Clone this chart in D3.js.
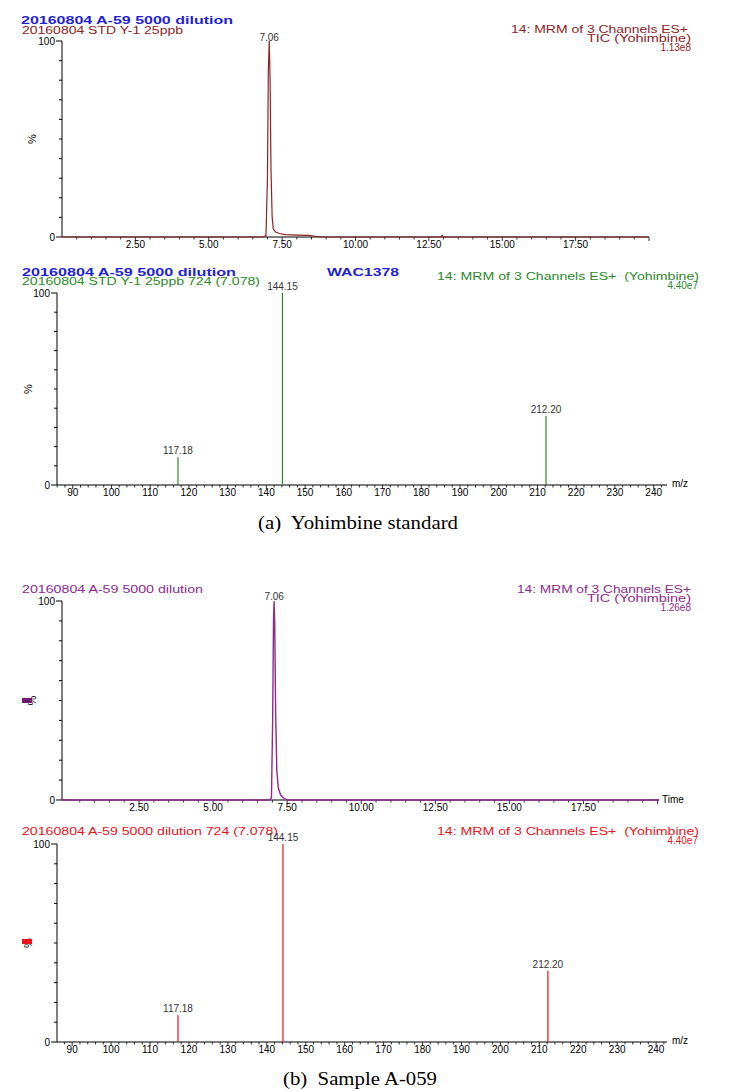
<!DOCTYPE html>
<html><head><meta charset="utf-8">
<script src="https://cdn.jsdelivr.net/npm/d3@7"></script>
<style>
html,body{margin:0;padding:0;background:#fff;}
svg{display:block;font-family:"Liberation Sans",Arial,sans-serif;}
text{white-space:pre;}
</style></head>
<body>
<svg id="chart" width="748" height="1091"></svg>
<script>
// ---------- DATA ----------
const timeTickLabels = [2.5, 5, 7.5, 10, 12.5, 15, 17.5];
const mzTickLabels = [90, 100, 110, 120, 130, 140, 150, 160, 170, 180, 190, 200, 210, 220, 230, 240];

// TIC of standard (top panel)
const ticStdTime = [0.0, 6.85, 6.95, 7.00, 7.03, 7.06, 7.09, 7.12, 7.16, 7.20, 7.28, 7.40, 7.60, 8.00, 8.40, 8.80, 12.90, 12.95, 13.00, 20.0];
const ticStdInt  = [0,   0,    0.8,  30,   85,   100,  80,   35,   10,   4,    2.5,  1.8,  1.2,  1.0,  0.8,  0,    0,     0.8,   0,     0];

// TIC of sample (third panel)
const ticSmpTime = [-0.1, 6.90, 6.97, 7.01, 7.04, 7.06, 7.08, 7.11, 7.15, 7.20, 7.28, 7.38, 7.50, 20.05];
const ticSmpInt  = [0,    0,    1,    40,   92,   100,  88,   45,   15,   6,    2.5,  1,    0,    0];

// MS/MS product ions
const mzPeaks = [117.18, 144.15, 212.20];
const mzLabels = ["117.18", "144.15", "212.20"];
const stdSpecInt = [14.5, 100, 36];
const smpSpecInt = [13.5, 100, 36];

// ---------- DRAW ----------
const svg = d3.select("#chart");
const FONT = 10;

function txt(x, y, s, opt) {
  const t = svg.append("text").attr("x", x).attr("y", y).text(s)
    .attr("font-size", opt.size || FONT)
    .attr("fill", opt.fill || "#000")
    .attr("text-anchor", opt.anchor || "start");
  if (opt.bold) t.attr("font-weight", "bold");
  if (opt.len) t.attr("textLength", opt.len).attr("lengthAdjust", "spacingAndGlyphs");
  if (opt.family) t.attr("font-family", opt.family);
  return t;
}

function yAxis(y, x0, pctX) {
  const g = svg.append("g");
  g.append("line").attr("x1", x0).attr("x2", x0).attr("y1", y(0)).attr("y2", y(100)).attr("stroke", "#000").attr("stroke-width", 1);
  d3.range(0, 101, 10).forEach(v => {
    const L = (v === 0 || v === 100) ? 6 : 3;
    g.append("line").attr("x1", x0 - L).attr("x2", x0).attr("y1", y(v)).attr("y2", y(v)).attr("stroke", "#000");
  });
  txt(x0 - 7, y(100) + 3.5, "100", {anchor: "end"});
  txt(x0 - 7, y(0) + 3.5, "0", {anchor: "end"});
  svg.append("text").attr("transform", `translate(${pctX},${y(50)}) rotate(-90)`)
    .attr("text-anchor", "middle").attr("font-size", 11).text("%");
}

function xAxis(x, y0, minor, majorEvery, labels, fmt, labelY) {
  const [r0, r1] = x.range();
  svg.append("line").attr("x1", r0).attr("x2", r1).attr("y1", y0).attr("y2", y0).attr("stroke", "#000");
  minor.forEach(v => {
    const px = x(v);
    if (px < r0 || px > r1) return;
    const major = Math.abs(v / majorEvery - Math.round(v / majorEvery)) < 1e-6;
    svg.append("line").attr("x1", px).attr("x2", px).attr("y1", y0).attr("y2", y0 + (major ? 4 : 2.5)).attr("stroke", "#000").attr("stroke-width", 0.8);
  });
  labels.forEach(v => txt(x(v), labelY, fmt(v), {anchor: "middle"}));
}

// ---- Panel 1: TIC standard ----
{
  const x = d3.scaleLinear().domain([0, 20]).range([62, 649]);
  const y = d3.scaleLinear().domain([0, 100]).range([237, 41]);
  const col = "#8e2424";
  txt(21, 24, "20160804 A-59 5000 dilution", {bold: true, fill: "#1f1fd8", size: 11, len: 212});
  txt(22, 34, "20160804 STD Y-1 25ppb", {fill: col, len: 161});
  txt(688, 33, "14: MRM of 3 Channels ES+", {fill: col, anchor: "end", len: 177});
  txt(691, 42, "TIC (Yohimbine)", {fill: col, anchor: "end", len: 104});
  txt(691, 51, "1.13e8", {fill: col, anchor: "end"});
  yAxis(y, 62, 36);
  xAxis(x, 237, d3.range(0.5, 20.01, 0.5), 2.5, timeTickLabels, d => d.toFixed(2), 248);
  const data = ticStdTime.map((t, i) => [t, ticStdInt[i]]);
  svg.append("path").datum(data)
    .attr("d", d3.line().x(d => x(d[0])).y(d => y(d[1])))
    .attr("fill", "none").attr("stroke", col).attr("stroke-width", 1.2);
  txt(x(7.06), 41, "7.06", {anchor: "middle", fill: "#333"});
}

// ---- Panel 2: spectrum standard ----
{
  const x = d3.scaleLinear().domain([85.94, 243.44]).range([57, 667]);
  const y = d3.scaleLinear().domain([0, 100]).range([485, 293]);
  const col = "#2b8a2b";
  txt(22, 276, "20160804 A-59 5000 dilution", {bold: true, fill: "#1f1fd8", size: 11, len: 214});
  txt(327, 276, "WAC1378", {bold: true, fill: "#1f1fd8", size: 11, len: 72});
  txt(22, 285, "20160804 STD Y-1 25ppb 724 (7.078)", {fill: col, len: 238});
  txt(699, 280, "14: MRM of 3 Channels ES+  (Yohimbine)", {fill: col, anchor: "end", len: 262});
  txt(698, 289, "4.40e7", {fill: col, anchor: "end"});
  yAxis(y, 57, 32);
  xAxis(x, 485, d3.range(86, 244, 2), 10, mzTickLabels, d => String(d), 496);
  txt(672, 487, "m/z", {fill: "#000"});
  svg.selectAll(null).data(mzPeaks).enter().append("line")
    .attr("x1", d => x(d)).attr("x2", d => x(d))
    .attr("y1", y(0)).attr("y2", (d, i) => y(stdSpecInt[i]))
    .attr("stroke", col).attr("stroke-width", 1.2);
  mzPeaks.forEach((m, i) => txt(x(m), y(stdSpecInt[i]) - 3, mzLabels[i], {anchor: "middle", fill: "#333"}));
}

txt(358, 529, "(a)  Yohimbine standard", {size: 19, family: "'Liberation Serif','DejaVu Serif',serif", anchor: "middle", len: 200});

// ---- Panel 3: TIC sample ----
{
  const x = d3.scaleLinear().domain([-0.1, 20.05]).range([62, 659]);
  const y = d3.scaleLinear().domain([0, 100]).range([800, 601]);
  const col = "#8e2a8e";
  txt(22, 593, "20160804 A-59 5000 dilution", {fill: col, len: 181});
  txt(691, 593, "14: MRM of 3 Channels ES+", {fill: col, anchor: "end", len: 174});
  txt(691, 602, "TIC (Yohimbine)", {fill: col, anchor: "end", len: 104});
  txt(691, 611, "1.26e8", {fill: col, anchor: "end"});
  yAxis(y, 62, 36);
  svg.append("rect").attr("x", 22).attr("y", 698).attr("width", 10).attr("height", 5).attr("fill", "#6e1a6e");
  xAxis(x, 800, d3.range(0.5, 20.01, 0.5), 2.5, timeTickLabels, d => d.toFixed(2), 811);
  txt(662, 803, "Time", {fill: "#000"});
  const data = ticSmpTime.map((t, i) => [t, ticSmpInt[i]]);
  svg.append("path").datum(data)
    .attr("d", d3.line().x(d => x(d[0])).y(d => y(d[1])))
    .attr("fill", "none").attr("stroke", col).attr("stroke-width", 1.4);
  txt(x(7.06), 600, "7.06", {anchor: "middle", fill: "#333"});
}

// ---- Panel 4: spectrum sample ----
{
  const x = d3.scaleLinear().domain([86.1, 242.8]).range([57, 667]);
  const y = d3.scaleLinear().domain([0, 100]).range([1042, 844]);
  const col = "#e8141c";
  txt(22, 835, "20160804 A-59 5000 dilution 724 (7.078)", {fill: col, len: 256});
  txt(699, 835, "14: MRM of 3 Channels ES+  (Yohimbine)", {fill: col, anchor: "end", len: 262});
  txt(698, 844, "4.40e7", {fill: col, anchor: "end"});
  yAxis(y, 57, 32);
  svg.append("rect").attr("x", 22).attr("y", 939).attr("width", 10).attr("height", 5).attr("fill", col);
  xAxis(x, 1042, d3.range(86, 244, 2), 10, mzTickLabels, d => String(d), 1053);
  txt(672, 1044, "m/z", {fill: "#000"});
  svg.selectAll(null).data(mzPeaks).enter().append("line")
    .attr("x1", d => x(d)).attr("x2", d => x(d))
    .attr("y1", y(0)).attr("y2", (d, i) => y(smpSpecInt[i]))
    .attr("stroke", col).attr("stroke-width", 1.2);
  mzPeaks.forEach((m, i) => txt(x(m), y(smpSpecInt[i]) - 3, mzLabels[i], {anchor: "middle", fill: "#333"}));
}

txt(360, 1085, "(b)  Sample A-059", {size: 19, family: "'Liberation Serif','DejaVu Serif',serif", anchor: "middle", len: 154});
</script>
</body></html>
